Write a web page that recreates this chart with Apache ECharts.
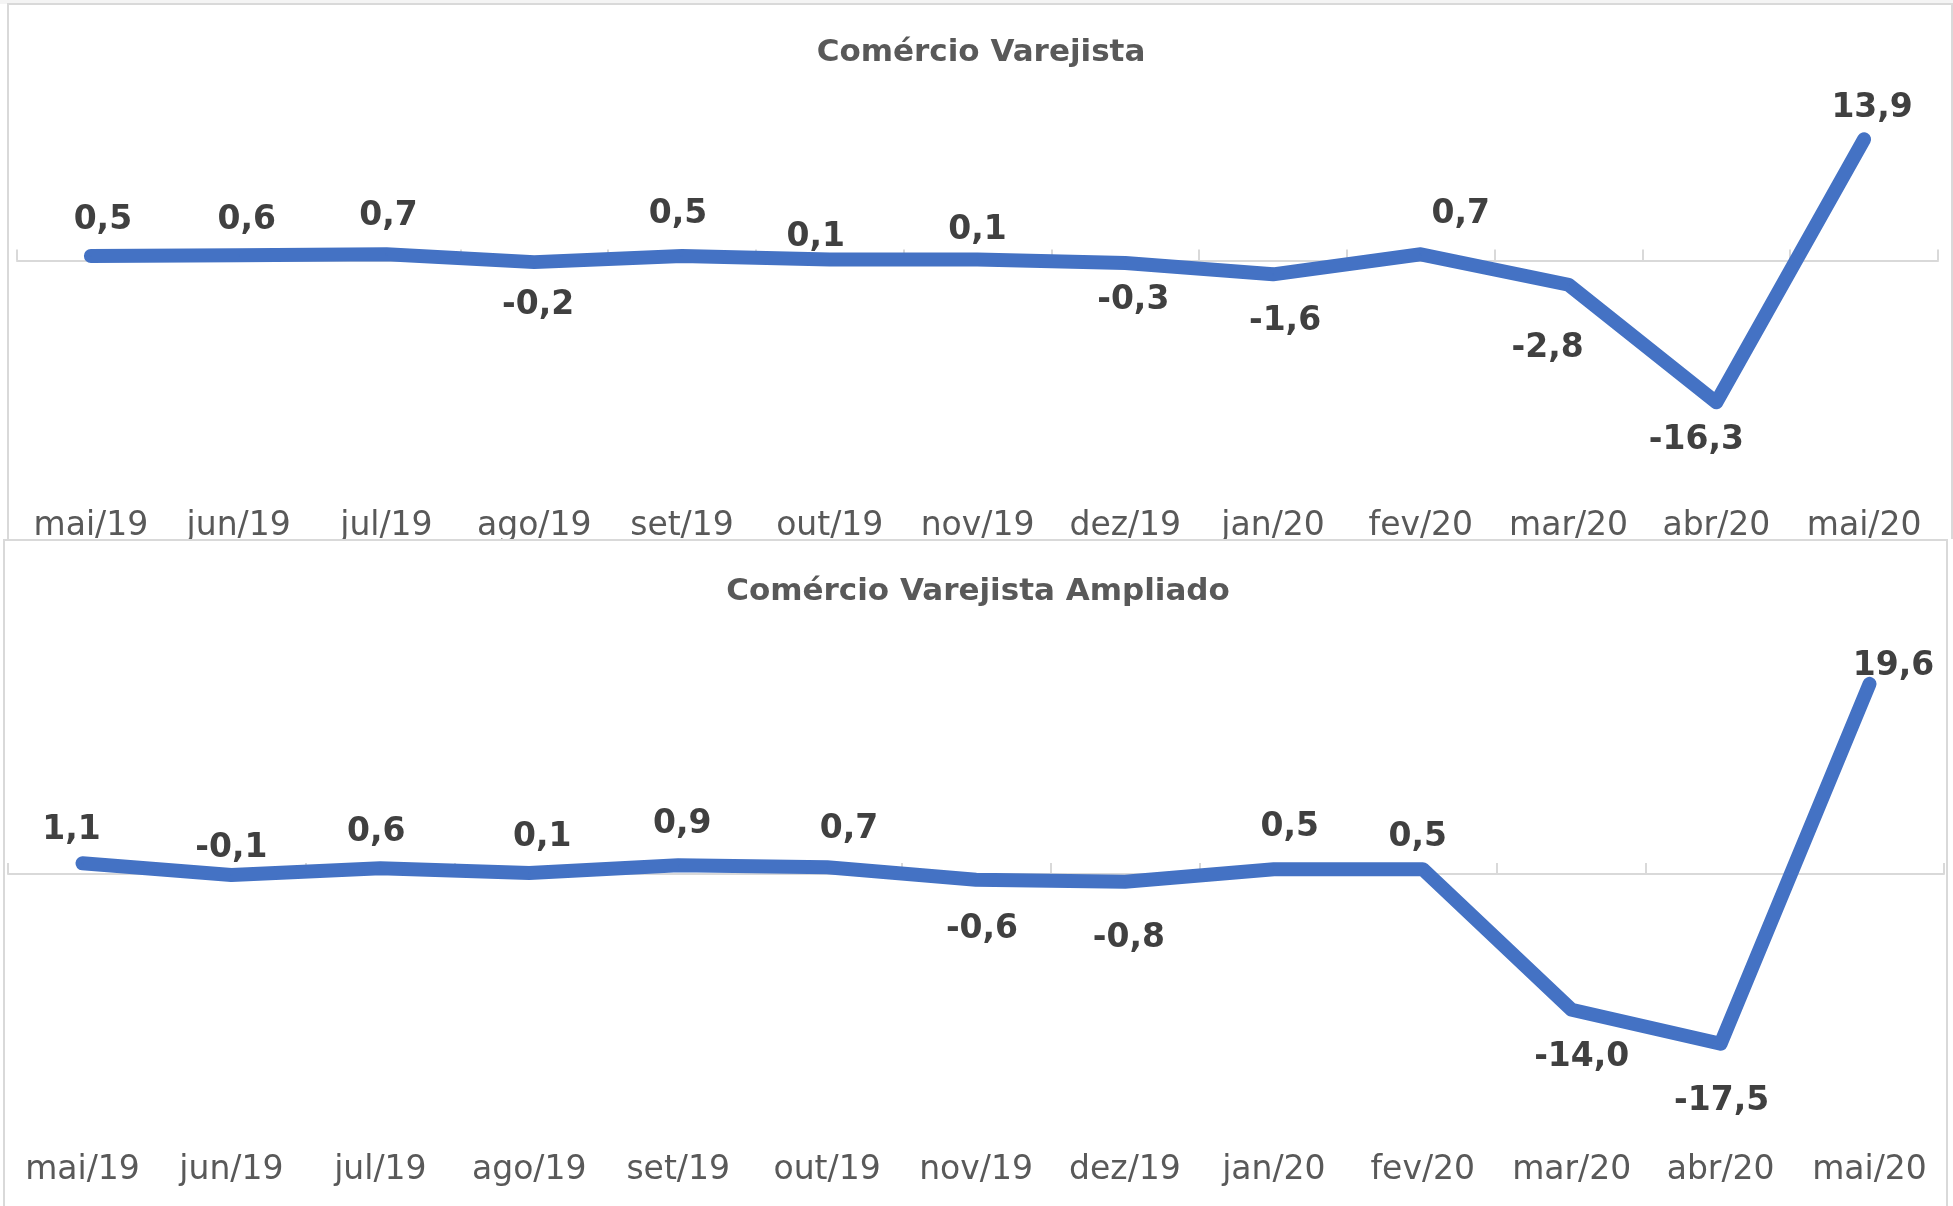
<!DOCTYPE html>
<html>
<head>
<meta charset="utf-8">
<script src="https://cdn.jsdelivr.net/npm/echarts@6/dist/echarts.min.js"></script>
<style>
  html, body { margin: 0; padding: 0; background: #ffffff; }
  #c1 { position: absolute; left: 0; top: 0; width: 1953px; height: 539px; }
  #c2 { position: absolute; left: 0; top: 539px; width: 1953px; height: 667px; }
</style>
</head>
<body>
<div id="c1"></div>
<div id="c2"></div>
<script>
// ---- data ----
const categories = ['mai/19','jun/19','jul/19','ago/19','set/19','out/19','nov/19','dez/19','jan/20','fev/20','mar/20','abr/20','mai/20'];
const varejista = [0.5, 0.6, 0.7, -0.2, 0.5, 0.1, 0.1, -0.3, -1.6, 0.7, -2.8, -16.3, 13.9];
const ampliado  = [1.1, -0.1, 0.6, 0.1, 0.9, 0.7, -0.6, -0.8, 0.5, 0.5, -14.0, -17.5, 19.6];
const title1 = 'Comércio Varejista';
const title2 = 'Comércio Varejista Ampliado';

// ---- label nudges (styling only) ----
const nudge1 = [[12,-36],[8,-35],[2,-38],[4,43],[-4,-42],[-14,-22],[0,-29],[8,37],[12,47],[40,-40],[-21,64],[-20,38],[8,-31]];
const nudge2 = [[-11,-33],[0,-27],[-4,-36],[13,-36],[4,-41],[22,-38],[6,50],[4,57],[16,-42],[-5,-32],[10,48],[1,58],[24,-17]];

const FONT = '"DejaVu Sans", sans-serif';
const BLUE = '#4472C4';
const GRID_LINE = '#d9d9d9';

function fmt(v) { return v.toFixed(1).replace('.', ','); }

function build(cfg) {
  return {
    animation: false,
    backgroundColor: '#ffffff',
    title: {
      text: cfg.title, left: cfg.titleX, top: cfg.titleTop, textAlign: 'center', padding: 0,
      textStyle: { fontFamily: FONT, fontWeight: 'bold', fontSize: 31, color: '#595959', lineHeight: 31 }
    },
    graphic: cfg.graphics.concat([{
      type: 'rect', silent: true, z: -10,
      shape: cfg.frame,
      style: { fill: 'none', stroke: GRID_LINE, lineWidth: 2 }
    }]),
    grid: { left: cfg.left, width: cfg.width, top: cfg.top, height: cfg.height, containLabel: false, outerBoundsMode: 'none' },
    xAxis: [{
      type: 'category', data: categories, position: 'bottom', boundaryGap: true,
      axisLine: { show: true, onZero: true, lineStyle: { color: GRID_LINE, width: 2 } },
      axisTick: { show: true, inside: true, length: 11, lineStyle: { color: GRID_LINE, width: 2 } },
      axisLabel: { show: false },
      splitLine: { show: false }
    }, {
      type: 'category', data: categories, position: 'bottom', boundaryGap: true,
      axisLine: { show: false, onZero: false },
      axisTick: { show: false },
      axisLabel: { show: true, interval: 0, margin: cfg.labelMargin, fontFamily: FONT, fontSize: 33, lineHeight: 33, color: '#595959' },
      splitLine: { show: false }
    }],
    yAxis: {
      type: 'value', min: cfg.min, max: cfg.max, show: false, splitLine: { show: false }
    },
    series: [{
      type: 'line', xAxisIndex: 0,
      data: cfg.values.map((v, i) => ({ value: v, label: { offset: cfg.nudge[i] } })),
      symbol: 'circle', symbolSize: 2, showSymbol: true, showAllSymbol: true,
      itemStyle: { color: BLUE },
      lineStyle: { color: BLUE, width: 14, cap: 'round', join: 'round' },
      label: {
        show: true, position: 'inside',
        formatter: p => fmt(p.value),
        fontFamily: FONT, fontWeight: 'bold', fontSize: 33, color: '#404040'
      },
      emphasis: { disabled: true }
    }]
  };
}

const c1 = echarts.init(document.getElementById('c1'));
c1.setOption(build({
  title: title1, titleX: 981, titleTop: 37.5,
  graphics: [{ type: 'rect', silent: true, z: -20, shape: { x: 0, y: 0, width: 1953, height: 4 }, style: { fill: '#f4f4f4' } }],
  frame: { x: 8, y: 4, width: 1944, height: 560 },
  left: 17, width: 1921, top: 121, height: 313.6,
  min: -20, max: 16, labelMargin: 75.5,
  values: varejista, nudge: nudge1
}));

const c2 = echarts.init(document.getElementById('c2'));
c2.setOption(build({
  title: title2, titleX: 978, titleTop: 37.5,
  graphics: [],
  frame: { x: 4, y: 1, width: 1943, height: 700 },
  left: 8, width: 1936, top: 121.6, height: 407.4,
  min: -20, max: 22, labelMargin: 86,
  values: ampliado, nudge: nudge2
}));
</script>
</body>
</html>
